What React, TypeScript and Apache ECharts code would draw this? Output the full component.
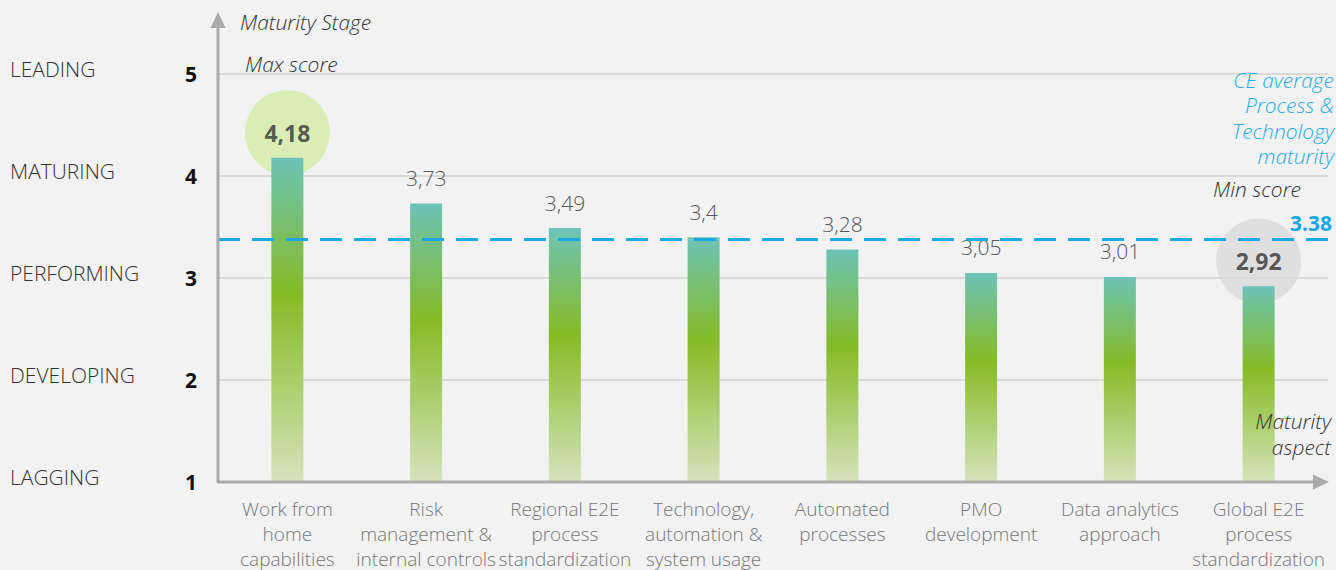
import React, { useEffect, useRef } from "react";
import * as echarts from "echarts";

const categories = [
  "Work from\nhome\ncapabilities",
  "Risk\nmanagement &\ninternal controls",
  "Regional E2E\nprocess\nstandardization",
  "Technology,\nautomation &\nsystem usage",
  "Automated\nprocesses",
  "PMO\ndevelopment",
  "Data analytics\napproach",
  "Global E2E\nprocess\nstandardization",
];
const scores = [4.18, 3.73, 3.49, 3.4, 3.28, 3.05, 3.01, 2.92];
const stageLevels = [1, 2, 3, 4, 5];
const stageNames = ["LAGGING", "DEVELOPING", "PERFORMING", "MATURING", "LEADING"];
const ceAverage = 3.38;
const ceAverageLabel = "3.38";

const FONT = "'Open Sans', 'Noto Sans', sans-serif";
const fmt = (v: number) => String(v).replace(".", ",");

export default function App() {
  const ref = useRef<HTMLDivElement>(null);
  useEffect(() => {
    document.body.style.margin = "0";
    document.body.style.background = "#f2f2f2";
    const chart = echarts.init(ref.current!, null, { renderer: "svg" });
    const maxIdx = scores.indexOf(Math.max(...scores));
    const minIdx = scores.indexOf(Math.min(...scores));
    const gradient = new echarts.graphic.LinearGradient(0, 0, 0, 1, [
      { offset: 0, color: "#6dc3b7" },
      { offset: 0.42, color: "#85bb25" },
      { offset: 1, color: "#d5e3bc" },
    ]);
    const barData = scores.map((v, i) => ({
      value: v,
      label: { show: i !== maxIdx && i !== minIdx },
    }));
    const circleData = [
      { value: [maxIdx, scores[maxIdx]], itemStyle: { color: "#d5eba6" } },
      { value: [minIdx, scores[minIdx]], itemStyle: { color: "#d9d9d9" } },
    ];
    const italic = {
      fontFamily: FONT,
      fontStyle: "italic",
      fontWeight: 300,
      fontSize: 21,
      fill: "#333",
    };
    const staticGraphic: any[] = [
      {
        type: "line",
        z: 100,
        shape: { x1: 218, y1: 483, x2: 218, y2: 24 },
        style: { stroke: "#aaaaaa", lineWidth: 3 },
      },
      {
        type: "polygon",
        z: 100,
        shape: { points: [[218, 12], [210.5, 28], [225.5, 28]] },
        style: { fill: "#aaaaaa" },
      },
      {
        type: "line",
        z: 100,
        shape: { x1: 217, y1: 482, x2: 1316, y2: 482 },
        style: { stroke: "#aaaaaa", lineWidth: 3 },
      },
      {
        type: "polygon",
        z: 100,
        shape: { points: [[1329, 482], [1313, 474.5], [1313, 489.5]] },
        style: { fill: "#aaaaaa" },
      },
      {
        type: "text",
        z: 100,
        x: 240,
        y: 22,
        style: { ...italic, text: "Maturity Stage", align: "left", verticalAlign: "middle" },
      },
      {
        type: "text",
        z: 100,
        x: 245,
        y: 64,
        style: { ...italic, text: "Max score", align: "left", verticalAlign: "middle" },
      },
      {
        type: "text",
        z: 100,
        x: 1334,
        y: 67,
        style: {
          ...italic,
          fill: "#29abe2",
          text: "CE average\nProcess &\nTechnology\nmaturity",
          lineHeight: 25.5,
          align: "right",
          verticalAlign: "top",
        },
      },
      {
        type: "text",
        z: 100,
        x: 1301,
        y: 189,
        style: { ...italic, text: "Min score", align: "right", verticalAlign: "middle" },
      },
      {
        type: "text",
        z: 100,
        x: 1331,
        y: 408,
        style: {
          ...italic,
          text: "Maturity\naspect",
          lineHeight: 26,
          align: "right",
          verticalAlign: "top",
        },
      },
    ];
    chart.setOption({
      animation: false,
      backgroundColor: "#f2f2f2",
      grid: { left: 218, right: 8, top: 74, bottom: 88, outerBoundsMode: "none", containLabel: false },
      xAxis: {
        type: "category",
        data: categories,
        axisLine: { show: false },
        axisTick: { show: false },
        axisLabel: {
          interval: 0,
          margin: 14,
          color: "#777",
          fontFamily: FONT,
          fontWeight: 300,
          fontSize: 19,
          lineHeight: 25,
        },
      },
      yAxis: {
        type: "value",
        min: 1,
        max: 5,
        interval: 1,
        axisLine: { show: false },
        axisTick: { show: false },
        splitLine: { show: true, lineStyle: { color: "#dadada", width: 2 } },
        axisLabel: {
          margin: 21,
          color: "#111",
          fontFamily: FONT,
          fontWeight: "bold",
          fontSize: 21,
        },
      },
      series: [
        {
          type: "scatter",
          z: 1,
          data: circleData,
          symbol: "circle",
          symbolSize: 85,
          symbolOffset: [0, -25],
          label: {
            show: true,
            position: "inside",
            color: "#333",
            fontFamily: FONT,
            fontWeight: "bold",
            fontSize: 23,
            formatter: (p: any) => fmt(p.value[1]),
          },
        },
        {
          type: "bar",
          z: 2,
          data: barData,
          barWidth: 32,
          itemStyle: { color: gradient },
          label: {
            position: "top",
            distance: 15,
            color: "#555",
            fontFamily: FONT,
            fontWeight: 300,
            fontSize: 21,
            formatter: (p: any) => fmt(p.value),
          },
          markLine: {
            silent: true,
            symbol: "none",
            z: 5,
            lineStyle: { color: "#1ba9e3", width: 3, type: [22, 12] },
            label: {
              show: true,
              position: "insideEndTop",
              distance: [-4, 6],
              formatter: ceAverageLabel,
              color: "#1ba9e3",
              fontFamily: FONT,
              fontWeight: "bold",
              fontSize: 21,
            },
            data: [{ yAxis: ceAverage }],
          },
        },
      ],
      graphic: staticGraphic,
    });
    const stageGraphic = stageLevels.map((lvl, i) => {
      const y = chart.convertToPixel({ yAxisIndex: 0 }, lvl) as number;
      return {
        type: "text",
        z: 100,
        x: 10,
        y: y - 5,
        style: {
          text: stageNames[i],
          fontFamily: FONT,
          fontWeight: 300,
          fontSize: 21,
          fill: "#333",
          align: "left",
          verticalAlign: "middle",
        },
      };
    });
    chart.setOption({ graphic: [...staticGraphic, ...stageGraphic] });
    return () => chart.dispose();
  }, []);
  return <div ref={ref} style={{ width: 1336, height: 570 }} />;
}
